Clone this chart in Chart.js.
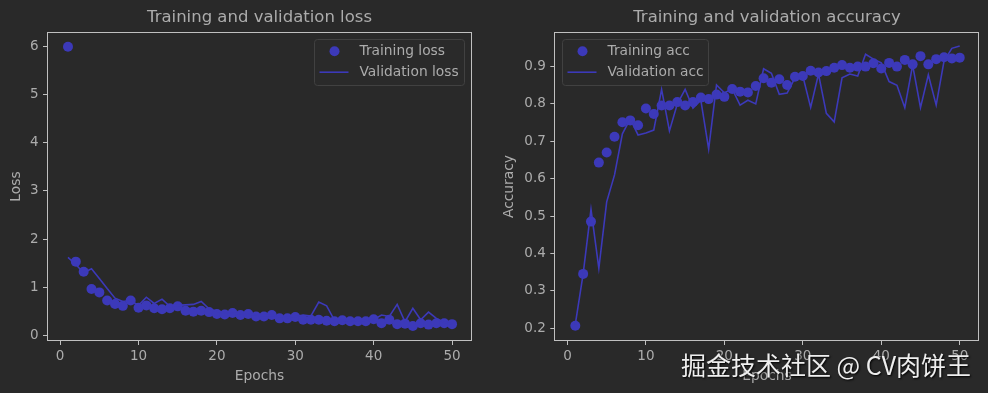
<!DOCTYPE html>
<html>
<head>
<meta charset="utf-8">
<script src="https://cdn.jsdelivr.net/npm/chart.js@4.4.1/dist/chart.umd.min.js"></script>
<style>
  html, body { margin: 0; padding: 0; background: #292929; }
  #wrap { position: relative; width: 988px; height: 393px; overflow: hidden; }
  canvas { position: absolute; top: 0; }
  #lossChart { left: 0; }
  #accChart { left: 494px; }
  #mark {
    position: absolute; left: 681px; top: 346px;
    font-family: "Noto Sans CJK SC"; font-size: 25px; color: #eeeeee;
    text-shadow: 1px 1px 2px #000; white-space: nowrap;
  }
</style>
</head>
<body>
<div id="wrap">
  <canvas id="lossChart" width="494" height="393"></canvas>
  <canvas id="accChart" width="494" height="393"></canvas>
  <div id="mark">掘金技术社区 @ CV肉饼王</div>
</div>
<script>
// data
var epochs = [1,2,3,4,5,6,7,8,9,10,11,12,13,14,15,16,17,18,19,20,21,22,23,24,25,
              26,27,28,29,30,31,32,33,34,35,36,37,38,39,40,41,42,43,44,45,46,47,48,49,50];

var trainLoss = [6.00,1.53,1.32,0.96,0.89,0.72,0.65,0.61,0.72,0.57,0.62,0.56,0.54,0.56,0.60,0.51,0.49,0.51,0.48,0.44,
                 0.43,0.46,0.42,0.44,0.39,0.39,0.42,0.35,0.35,0.38,0.32,0.32,0.32,0.30,0.29,0.31,0.29,0.29,0.29,0.33,
                 0.25,0.32,0.23,0.24,0.19,0.25,0.22,0.25,0.25,0.23];
var valLoss = [1.62,1.47,1.30,1.38,1.18,0.97,0.77,0.70,0.72,0.62,0.79,0.66,0.75,0.60,0.62,0.63,0.64,0.70,0.55,0.50,
               0.46,0.46,0.44,0.44,0.42,0.41,0.41,0.39,0.37,0.39,0.42,0.40,0.69,0.61,0.31,0.31,0.30,0.29,0.31,0.32,
               0.42,0.39,0.64,0.28,0.56,0.32,0.48,0.35,0.27,0.23];

var trainAcc = [0.206,0.345,0.485,0.643,0.670,0.712,0.751,0.756,0.743,0.788,0.773,0.796,0.796,0.805,0.796,0.805,0.817,
                0.813,0.825,0.819,0.840,0.833,0.831,0.848,0.869,0.857,0.866,0.851,0.873,0.875,0.889,0.884,0.888,0.897,
                0.904,0.897,0.900,0.900,0.909,0.895,0.910,0.900,0.918,0.906,0.928,0.906,0.920,0.925,0.922,0.924];
var valAcc = [0.210,0.345,0.518,0.360,0.538,0.610,0.720,0.760,0.717,0.722,0.730,0.839,0.728,0.800,0.839,0.789,0.810,
              0.679,0.851,0.830,0.840,0.797,0.810,0.800,0.894,0.882,0.826,0.829,0.870,0.875,0.791,0.880,0.775,0.752,
              0.870,0.880,0.875,0.933,0.920,0.910,0.860,0.850,0.790,0.904,0.790,0.878,0.797,0.915,0.949,0.955];

var epochTicks = [0, 10, 20, 30, 40, 50];
var lossTicks = [0, 1, 2, 3, 4, 5, 6];
var accTicks = [0.2, 0.3, 0.4, 0.5, 0.6, 0.7, 0.8, 0.9];

var blue = '#3c39b9';
var txt = '#acacac';
var frameCol = '#c0c0c0';
var fam = '"DejaVu Sans", sans-serif';

function toPoints(ys) {
  return ys.map(function(y, i) { return { x: epochs[i], y: y }; });
}

// box around the axes + matplotlib style legend
var frameAndLegend = {
  id: 'frameAndLegend',
  afterDatasetsDraw: function(chart) {
    var ctx = chart.ctx, a = chart.chartArea;
    ctx.save();
    ctx.strokeStyle = frameCol;
    ctx.lineWidth = 1;
    ctx.strokeRect(Math.round(a.left) - 0.5, Math.round(a.top) - 0.5,
                   Math.round(a.right - a.left) + 1, Math.round(a.bottom - a.top) + 1);
    ctx.restore();
  },
  afterDraw: function(chart, args, opts) {
    var ctx = chart.ctx, a = chart.chartArea, ds = chart.data.datasets;
    var w = opts.width, h = 46;
    var x = opts.side === 'left' ? a.left + 7 : a.right - 7 - w;
    var y = a.top + 6;
    x = Math.round(x) + 0.5; y = Math.round(y) + 0.5;
    ctx.save();
    ctx.beginPath();
    if (ctx.roundRect) ctx.roundRect(x, y, w, h, 3); else ctx.rect(x, y, w, h);
    ctx.fillStyle = 'rgba(42,42,42,0.85)';
    ctx.fill();
    ctx.strokeStyle = '#414141';
    ctx.lineWidth = 1;
    ctx.stroke();
    var r1 = y + 11.7, r2 = y + 32.7;
    ctx.fillStyle = blue;
    ctx.beginPath();
    ctx.arc(x + 20, r1, 5, 0, Math.PI * 2);
    ctx.fill();
    ctx.strokeStyle = blue;
    ctx.lineWidth = 1.6;
    ctx.beginPath();
    ctx.moveTo(x + 5, r2);
    ctx.lineTo(x + 34, r2);
    ctx.stroke();
    ctx.fillStyle = txt;
    ctx.font = '13.8px ' + fam;
    ctx.textAlign = 'left';
    ctx.textBaseline = 'middle';
    ctx.fillText(ds[0].label, x + 45, r1);
    ctx.fillText(ds[1].label, x + 45, r2);
    ctx.restore();
  }
};

function makeChart(id, o) {
  return new Chart(document.getElementById(id), {
    type: 'line',
    data: {
      datasets: [
        { label: o.labels[0], data: toPoints(o.train), showLine: false,
          pointRadius: 5, pointBackgroundColor: blue, pointBorderWidth: 0, order: 1 },
        { label: o.labels[1], data: toPoints(o.val), borderColor: blue,
          borderWidth: 1.6, pointRadius: 0, tension: 0, order: 0 }
      ]
    },
    options: {
      responsive: false,
      animation: false,
      devicePixelRatio: 1,
      layout: { padding: { left: 0, right: o.padRight, top: 0, bottom: 0 } },
      plugins: {
        legend: { display: false },
        tooltip: { enabled: false },
        title: {
          display: true, text: o.title, color: txt, fullSize: false,
          font: { family: fam, size: 16.5, weight: 'normal', lineHeight: 1.2 },
          padding: { top: 7.5, bottom: 5.7 }
        },
        frameAndLegend: { side: o.legendSide, width: o.legendWidth }
      },
      scales: {
        x: {
          type: 'linear', min: -1.55, max: 52.42,
          afterBuildTicks: function(s) { s.ticks = epochTicks.map(function(v) { return { value: v }; }); },
          afterFit: function(s) { s.height = 53; },
          ticks: { color: txt, font: { family: fam, size: 13.5 }, padding: 3, maxRotation: 0 },
          grid: { drawOnChartArea: false, drawTicks: true, tickLength: 5, color: frameCol },
          border: { display: false },
          title: { display: true, text: 'Epochs', color: txt, font: { family: fam, size: 13.8 },
                   padding: { top: 0, bottom: 8.7 } }
        },
        y: {
          type: 'linear', min: o.yMin, max: o.yMax,
          afterBuildTicks: function(s) { s.ticks = o.yTicks.map(function(v) { return { value: v }; }); },
          afterFit: function(s) { s.width = o.yWidth; },
          ticks: { color: txt, font: { family: fam, size: 13.5 }, padding: 4.5,
                   callback: function(v) { return o.fmt(v); } },
          grid: { drawOnChartArea: false, drawTicks: true, tickLength: 5, color: frameCol },
          border: { display: false },
          title: { display: true, text: o.yTitle, color: txt, font: { family: fam, size: 13.8 },
                   padding: { top: o.yTitlePad, bottom: 0 } }
        }
      }
    },
    plugins: [frameAndLegend]
  });
}

makeChart('lossChart', {
  title: 'Training and validation loss',
  labels: ['Training loss', 'Validation loss'],
  train: trainLoss, val: valLoss,
  yTicks: lossTicks, yMin: -0.1, yMax: 6.285,
  fmt: function(v) { return String(v); },
  yTitle: 'Loss', yTitlePad: 8.3, yWidth: 48, padRight: 23,
  legendSide: 'right', legendWidth: 150
});

makeChart('accChart', {
  title: 'Training and validation accuracy',
  labels: ['Training acc', 'Validation acc'],
  train: trainAcc, val: valAcc,
  yTicks: accTicks, yMin: 0.168, yMax: 0.99,
  fmt: function(v) { return v.toFixed(1); },
  yTitle: 'Accuracy', yTitlePad: 7.2, yWidth: 61.3, padRight: 9.3,
  legendSide: 'left', legendWidth: 146
});
</script>
</body>
</html>
